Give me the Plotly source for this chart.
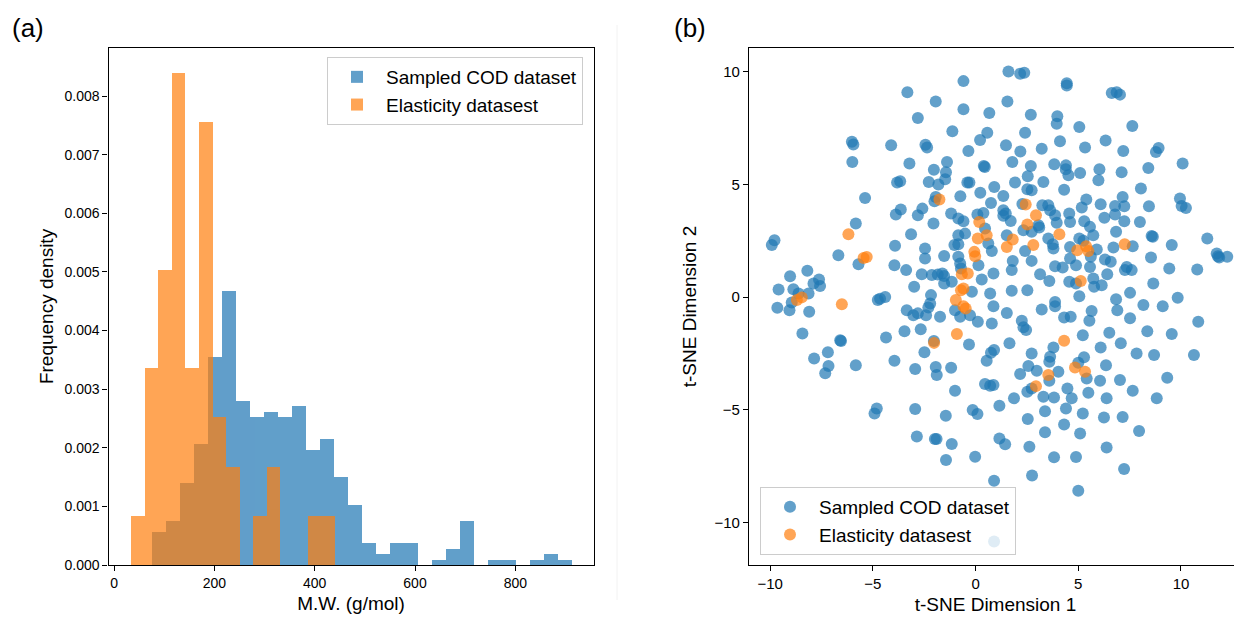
import numpy as np
import plotly.graph_objects as go

# ---- panel (a): histogram of molecular weight ----
cod_min, cod_max = 74.5, 912.0
cod_counts = [6, 8, 15, 22, 38, 50, 30, 27, 28, 27, 29, 21, 23, 16, 11,
              4, 2, 4, 4, 0, 1, 3, 8, 0, 1, 1, 0, 1, 2, 1]
ela_min, ela_max = 33.0, 439.0
ela_counts = [1, 4, 6, 10, 4, 9, 3, 2, 0, 1, 2, 0, 0, 1, 1]

# ---- panel (b): t-SNE embedding ----
cod_x = [-0.59, -3.32, -1.94, -0.59, -2.81, 0.67, -1.13, 0.57, 0.22, -6.02, -5.95, -4.11, -2.44, -2.36, -0.35,
         -6.0, -3.22, -1.39, -2.03, -1.44, -1.48, 0.40, 0.45, -3.82, -3.67, -2.28, -1.81, -0.40, -0.30, 0.23,
         0.91, -5.38, -0.74, -1.94, -2.0, 0.75, -3.88, -3.64, -2.81, -2.59, -1.19, -0.84, -0.59, 0.09, 0.38,
         -5.83, -2.05,
         1.60, 2.17, 2.37, 4.44, 4.44, 6.63, 6.87, 7.03, 1.55, 2.69, 3.98, 3.95, 5.05, 7.63, 2.41, 1.48, 2.18,
         3.22, 4.11, 5.33, 6.33, 7.19, 8.78, 8.91, 1.79, 2.69, 3.83, 4.40, 4.39, 4.52, 5.09, 6.03, 5.98, 7.11,
         8.41, 10.08, 1.92, 1.35, 2.54, 2.52, 2.73, 3.30, 4.31, 8.05, 9.95, 10.03, 10.24, 2.28, 1.35, 1.47,
         1.35, 1.71, 3.25, 3.54, 3.63, 3.87, 4.56, 5.39, 5.17, 6.09, 6.79, 6.79, 7.16, 7.24, 8.44, 6.27, 7.24,
         8.0, 5.29, 4.60, 3.95, 3.06,
         -9.79, -9.92, -6.68, -5.70, -9.03, -8.19, -9.59, -8.87, -8.62, -7.89, -7.62, -7.57, -8.13, -8.95,
         -9.65, -9.06, -8.10, -8.43, -6.59, -6.55, -7.86, -7.19, -7.16, -7.32, -5.83, -4.76, -4.65, -4.40,
         -3.92, -3.14, -3.95, -3.38, -2.46, -2.46, -2.62, -2.13, -1.84, -1.62, -1.53, -1.53, -2.99, -2.17,
         -1.53, -1.16, -2.21, -2.30, -2.41, -3.35, -3.03, -2.81, -1.73, -2.67, -3.46, -4.36, -2.03, -2.49,
         -3.95, -2.94, -1.94, -1.89, -1.19, -1.0, -0.32, 0.54, 0.75, 0.46, 0.71, 0.87, -0.84, -0.51, -1.03,
         -0.84, -0.84, -0.75, -0.71, 0.46, 0.62, 0.79, 0.14, 0.30, -0.18, -1.0, -0.75, -0.27, 0.11, 0.71,
         0.87, 0.79, 0.87,
         5.57, 1.52, 2.33, 2.73, 3.10, 2.41, 3.54, 3.76, 3.79, 4.60, 5.05, 5.25, 5.73, 5.90, 5.61, 6.71, 6.84,
         7.65, 8.57, 8.63, 9.55, 8.54, 9.43, 10.79, 11.28, 11.74, 11.86, 12.25, 11.80, 1.76, 1.81, 2.73, 3.87,
         4.24, 4.60, 4.89, 5.57, 6.30, 6.58, 7.36, 7.60, 7.27, 3.14, 3.59, 4.56, 4.89, 5.73, 5.77, 6.14, 6.41,
         1.76, 2.52, 5.05, 6.84, 6.90, 7.52, 8.17, 9.11, 9.84, 1.52, 3.22, 3.87, 3.87, 4.31, 4.63, 5.65, 5.54,
         7.52, 2.25, 2.33, 2.46, 5.22, 6.51, 8.36, 9.55, 10.84, 1.65, 0.90, 3.79, 2.73, 3.63, 3.59, 6.09, 7.07,
         7.84, 8.69, 10.63, 5.28, 5.0, 6.35, 4.03, 2.57, 2.98, 2.17, 3.59, 5.41, 6.06, 7.03, 9.33, 2.73, 2.52,
         4.47, 5.49, 7.65, 1.87, 3.30, 3.82, 4.68, 6.38, 8.82, 8.65,
         1.16, 3.38, 4.40, 5.22, 2.54, 6.25, 7.16, 4.31, 3.38, 5.09, 7.96, 1.16, 1.44, 2.62, 6.38, 3.82, 4.89,
         7.23, 0.90, 2.75, 5.0, 0.90,
         -4.81, -4.92, -2.94, -1.45, -0.14, 0.09, -2.86, -1.98, -1.90, -1.16, -1.44, -0.02]
cod_y = [9.59, 9.10, 8.69, 8.34, 7.95, 8.17, 7.36, 7.30, 6.98, 6.90, 6.78, 6.74, 6.77, 6.64, 6.49,
         6.0, 5.93, 6.0, 5.66, 5.54, 5.23, 5.82, 5.78, 5.09, 5.14, 5.11, 5.0, 5.09, 5.09, 4.63,
         4.89, 4.40, 4.48, 4.45, 4.26, 4.18, 3.67, 3.89, 3.64, 3.93, 3.71, 3.49, 3.37, 3.67, 3.74,
         3.27, 3.27,
         10.02, 9.92, 9.96, 9.50, 9.40, 9.06, 9.10, 8.99, 8.69, 8.10, 8.03, 7.70, 7.55, 7.60, 7.30, 6.74, 6.47,
         6.59, 6.92, 6.64, 6.95, 6.49, 6.44, 6.62, 6.0, 5.82, 5.90, 5.85, 5.68, 5.41, 5.51, 5.68, 5.19, 5.54,
         5.73, 5.93, 5.09, 4.49, 5.37, 4.79, 4.75, 5.11, 4.77, 4.82, 4.38, 4.05, 3.96, 4.14, 3.86, 3.71,
         3.61, 3.38, 4.08, 4.08, 3.86, 3.64, 3.71, 4.33, 3.98, 4.12, 4.05, 3.67, 4.45, 4.04, 4.04, 3.52, 3.37,
         3.34, 3.37, 3.34, 3.30, 3.19,
         2.53, 2.31, 1.86, 1.46, 0.93, 1.17, 0.34, 0.35, 0.16, 0.61, 0.78, 0.50, 0.16, -0.24,
         -0.47, -0.58, -0.65, -1.61, -1.91, -1.95, -2.72, -2.45, -3.06, -3.38, -3.02, -0.13, -0.07, 0.01,
         2.28, 2.79, 1.42, 1.20, 2.16, 1.72, 1.02, 0.98, 1.0, 1.05, 0.94, 0.61, 0.46, 0.09,
         1.83, 0.68, -0.28, -0.46, -0.80, -0.58, -0.80, -0.72, -0.87, -1.42, -1.51, -1.79, -1.95, -2.45,
         -2.82, -3.19, -3.10, -3.46, -3.13, -4.15, -2.10, -2.82, -2.47, -3.86, -3.93, -3.90, 2.75, 2.82, 2.31,
         2.35, 1.79, 1.49, 1.27, 3.05, 2.38, 2.05, 1.42, 0.78, 0.24, -0.58, -0.87, -0.80, -1.09, 0.16,
         -0.40, -1.17, 1.05,
         3.12, 2.75, 2.97, 2.90, 3.09, 2.05, 2.60, 2.35, 2.16, 2.23, 2.60, 2.50, 2.75, 2.12, 1.79, 2.20, 2.90,
         2.26, 2.71, 2.68, 2.31, 1.76, 1.27, 1.23, 2.60, 1.94, 1.76, 1.79, 1.82, 1.20, 1.60, 1.61, 1.37,
         1.32, 1.72, 1.42, 1.34, 1.67, 1.57, 1.34, 1.20, 1.20, 1.02, 0.72, 0.68, 0.61, 0.83, 0.46, 0.53, 1.02,
         0.28, 0.31, 0.04, -0.09, -0.58, 0.19, -0.35, -0.40, -0.03, -0.70, -0.55, -0.21, -0.40, -0.90, -0.87, -0.61, -1.05,
         -0.94, -1.05, -1.34, -1.46, -1.69, -1.58, -1.51, -1.64, -1.09, -2.05, -2.35, -2.23, -2.50, -2.65, -2.87, -2.23, -2.05,
         -2.50, -2.57, -2.57, -2.67, -2.91, -3.02, -3.31, -3.06, -3.27, -3.41, -3.71, -3.61, -3.71, -3.68, -3.58, -4.05, -4.20,
         -4.05, -4.24, -4.15, -4.49, -4.42, -4.45, -4.49, -4.49, -4.49, 0.61,
         -4.82, -5.06, -4.94, -5.16, -5.41, -5.34, -5.32, -5.65, -6.0, -6.05, -5.94, -6.27, -6.53, -6.64, -6.67, -7.11, -7.10,
         -7.63, -8.15, -7.92, -8.59, -10.85,
         -4.94, -5.16, -4.97, -5.26, -5.01, -5.19, -6.19, -6.30, -6.30, -6.52, -7.23, -7.08]

ela_x = [-1.76, 0.18, 2.44, 2.94, 2.52, -6.19, -5.45, -5.30, -8.70, -8.46, -6.51, -2.02, -0.91, -0.06, -0.02,
         0.11, 0.54, -0.67, -0.38, -0.71, -0.59, -0.96, -0.59, -0.48, 4.08, 1.81, 1.52, 2.81, 4.95, 5.38,
         5.49, 7.26, 5.12, 4.31, 4.84, 5.33, 3.54, 2.94]
ela_y = [4.33, 3.34, 4.11, 3.64, 3.22, 2.79, 1.74, 1.78, -0.13, -0.01, -0.32, -2.03, -1.64, 2.01, 1.82,
         2.60, 2.75, 1.02, 1.05, 0.31, 0.38, -0.13, -0.40, -0.50, 2.79, 2.56, 2.23, 2.31, 2.08, 2.26,
         2.05, 2.35, 0.72, -1.94, -3.12, -3.31, -3.46, -3.95]

BLUE = '#1f77b4'
ORANGE = '#ff7f0e'
FONT = 'Liberation Sans, Arial, sans-serif'

# the page body adds an 8 px margin, so the figure is 8 px smaller than the window
W, H = 1234, 617


def hist_bars(vmin, vmax, counts):
    counts = np.array(counts, dtype=float)
    n = len(counts)
    width = (vmax - vmin) / n
    edges = np.linspace(vmin, vmax, n + 1)
    centers = (edges[:-1] + edges[1:]) / 2
    dens = counts / (counts.sum() * width)
    return centers, dens, width


def px(x):
    return (x - 8) / W


def py(y):
    return 1 - (y - 8) / H


fig = go.Figure()

cx, cy, cw = hist_bars(cod_min, cod_max, cod_counts)
ex, ey, ew = hist_bars(ela_min, ela_max, ela_counts)

fig.add_trace(go.Bar(x=cx, y=cy, width=cw, marker=dict(color=BLUE, line=dict(width=0)),
                     opacity=0.7, name='Sampled COD dataset', xaxis='x', yaxis='y', legend='legend'))
fig.add_trace(go.Bar(x=ex, y=ey, width=ew, marker=dict(color=ORANGE, line=dict(width=0)),
                     opacity=0.7, name='Elasticity datasest', xaxis='x', yaxis='y', legend='legend'))

fig.add_trace(go.Scatter(x=cod_x, y=cod_y, mode='markers', name='Sampled COD dataset',
                         marker=dict(color=BLUE, size=12, opacity=0.7, line=dict(width=0)),
                         xaxis='x2', yaxis='y2', legend='legend2'))
fig.add_trace(go.Scatter(x=ela_x, y=ela_y, mode='markers', name='Elasticity datasest',
                         marker=dict(color=ORANGE, size=12, opacity=0.7, line=dict(width=0)),
                         xaxis='x2', yaxis='y2', legend='legend2'))

axis_common = dict(showline=True, linecolor='black', linewidth=1.2, ticks='outside', ticklen=5,
                   tickwidth=1.2, tickcolor='black', showgrid=False, zeroline=False, automargin=False)
tick_a = dict(family=FONT, size=14, color='black')
tick_b = dict(family=FONT, size=15, color='black')
title_font = dict(family=FONT, size=19, color='black')
legend_common = dict(bgcolor='rgba(255,255,255,0.8)', bordercolor='#cccccc', borderwidth=1,
                     itemwidth=48, font=dict(family=FONT, size=19, color='black'))

fig.update_layout(
    width=W, height=H,
    margin=dict(l=0, r=0, t=0, b=0),
    paper_bgcolor='white', plot_bgcolor='white',
    barmode='overlay', bargap=0,
    font=dict(family=FONT, color='black'),
    xaxis=dict(domain=[px(108.5), px(593.6)], range=[-11, 956], tickvals=[0, 200, 400, 600, 800],
               mirror=True, anchor='y', tickfont=tick_a,
               title=dict(text='M.W. (g/mol)', font=title_font, standoff=6), **axis_common),
    yaxis=dict(domain=[py(565), py(48)], range=[0, 0.00882], dtick=0.001, tickformat='.3f',
               mirror=True, anchor='x', tickfont=tick_a,
               title=dict(text='Frequency density', font=title_font, standoff=5), **axis_common),
    xaxis2=dict(domain=[px(749), 1.0], range=[-11.03, 12.97], tickvals=[-10, -5, 0, 5, 10],
                mirror=True, anchor='y2', tickfont=tick_b,
                title=dict(text='t-SNE Dimension 1', font=title_font, standoff=6), **axis_common),
    yaxis2=dict(domain=[py(565), py(48)], range=[-11.89, 11.06], tickvals=[-10, -5, 0, 5, 10],
                mirror=False, anchor='x2', tickfont=tick_b,
                title=dict(text='t-SNE Dimension 2', font=title_font, standoff=12), **axis_common),
    legend=dict(x=px(583), y=py(57), xanchor='right', yanchor='top', **legend_common),
    legend2=dict(x=px(760), y=py(555), xanchor='left', yanchor='bottom', **legend_common),
    showlegend=True,
)

fig.add_annotation(text='(a)', x=px(10), y=py(28), xref='paper', yref='paper', xanchor='left',
                   yanchor='middle', showarrow=False, font=dict(family=FONT, size=26, color='black'))
fig.add_annotation(text='(b)', x=px(672), y=py(28), xref='paper', yref='paper', xanchor='left',
                   yanchor='middle', showarrow=False, font=dict(family=FONT, size=26, color='black'))
fig.add_shape(type='line', xref='paper', yref='paper', x0=px(617), x1=px(617), y0=py(600), y1=py(25),
              line=dict(color='#f2f2f2', width=1))

fig.write_html("out.html")
